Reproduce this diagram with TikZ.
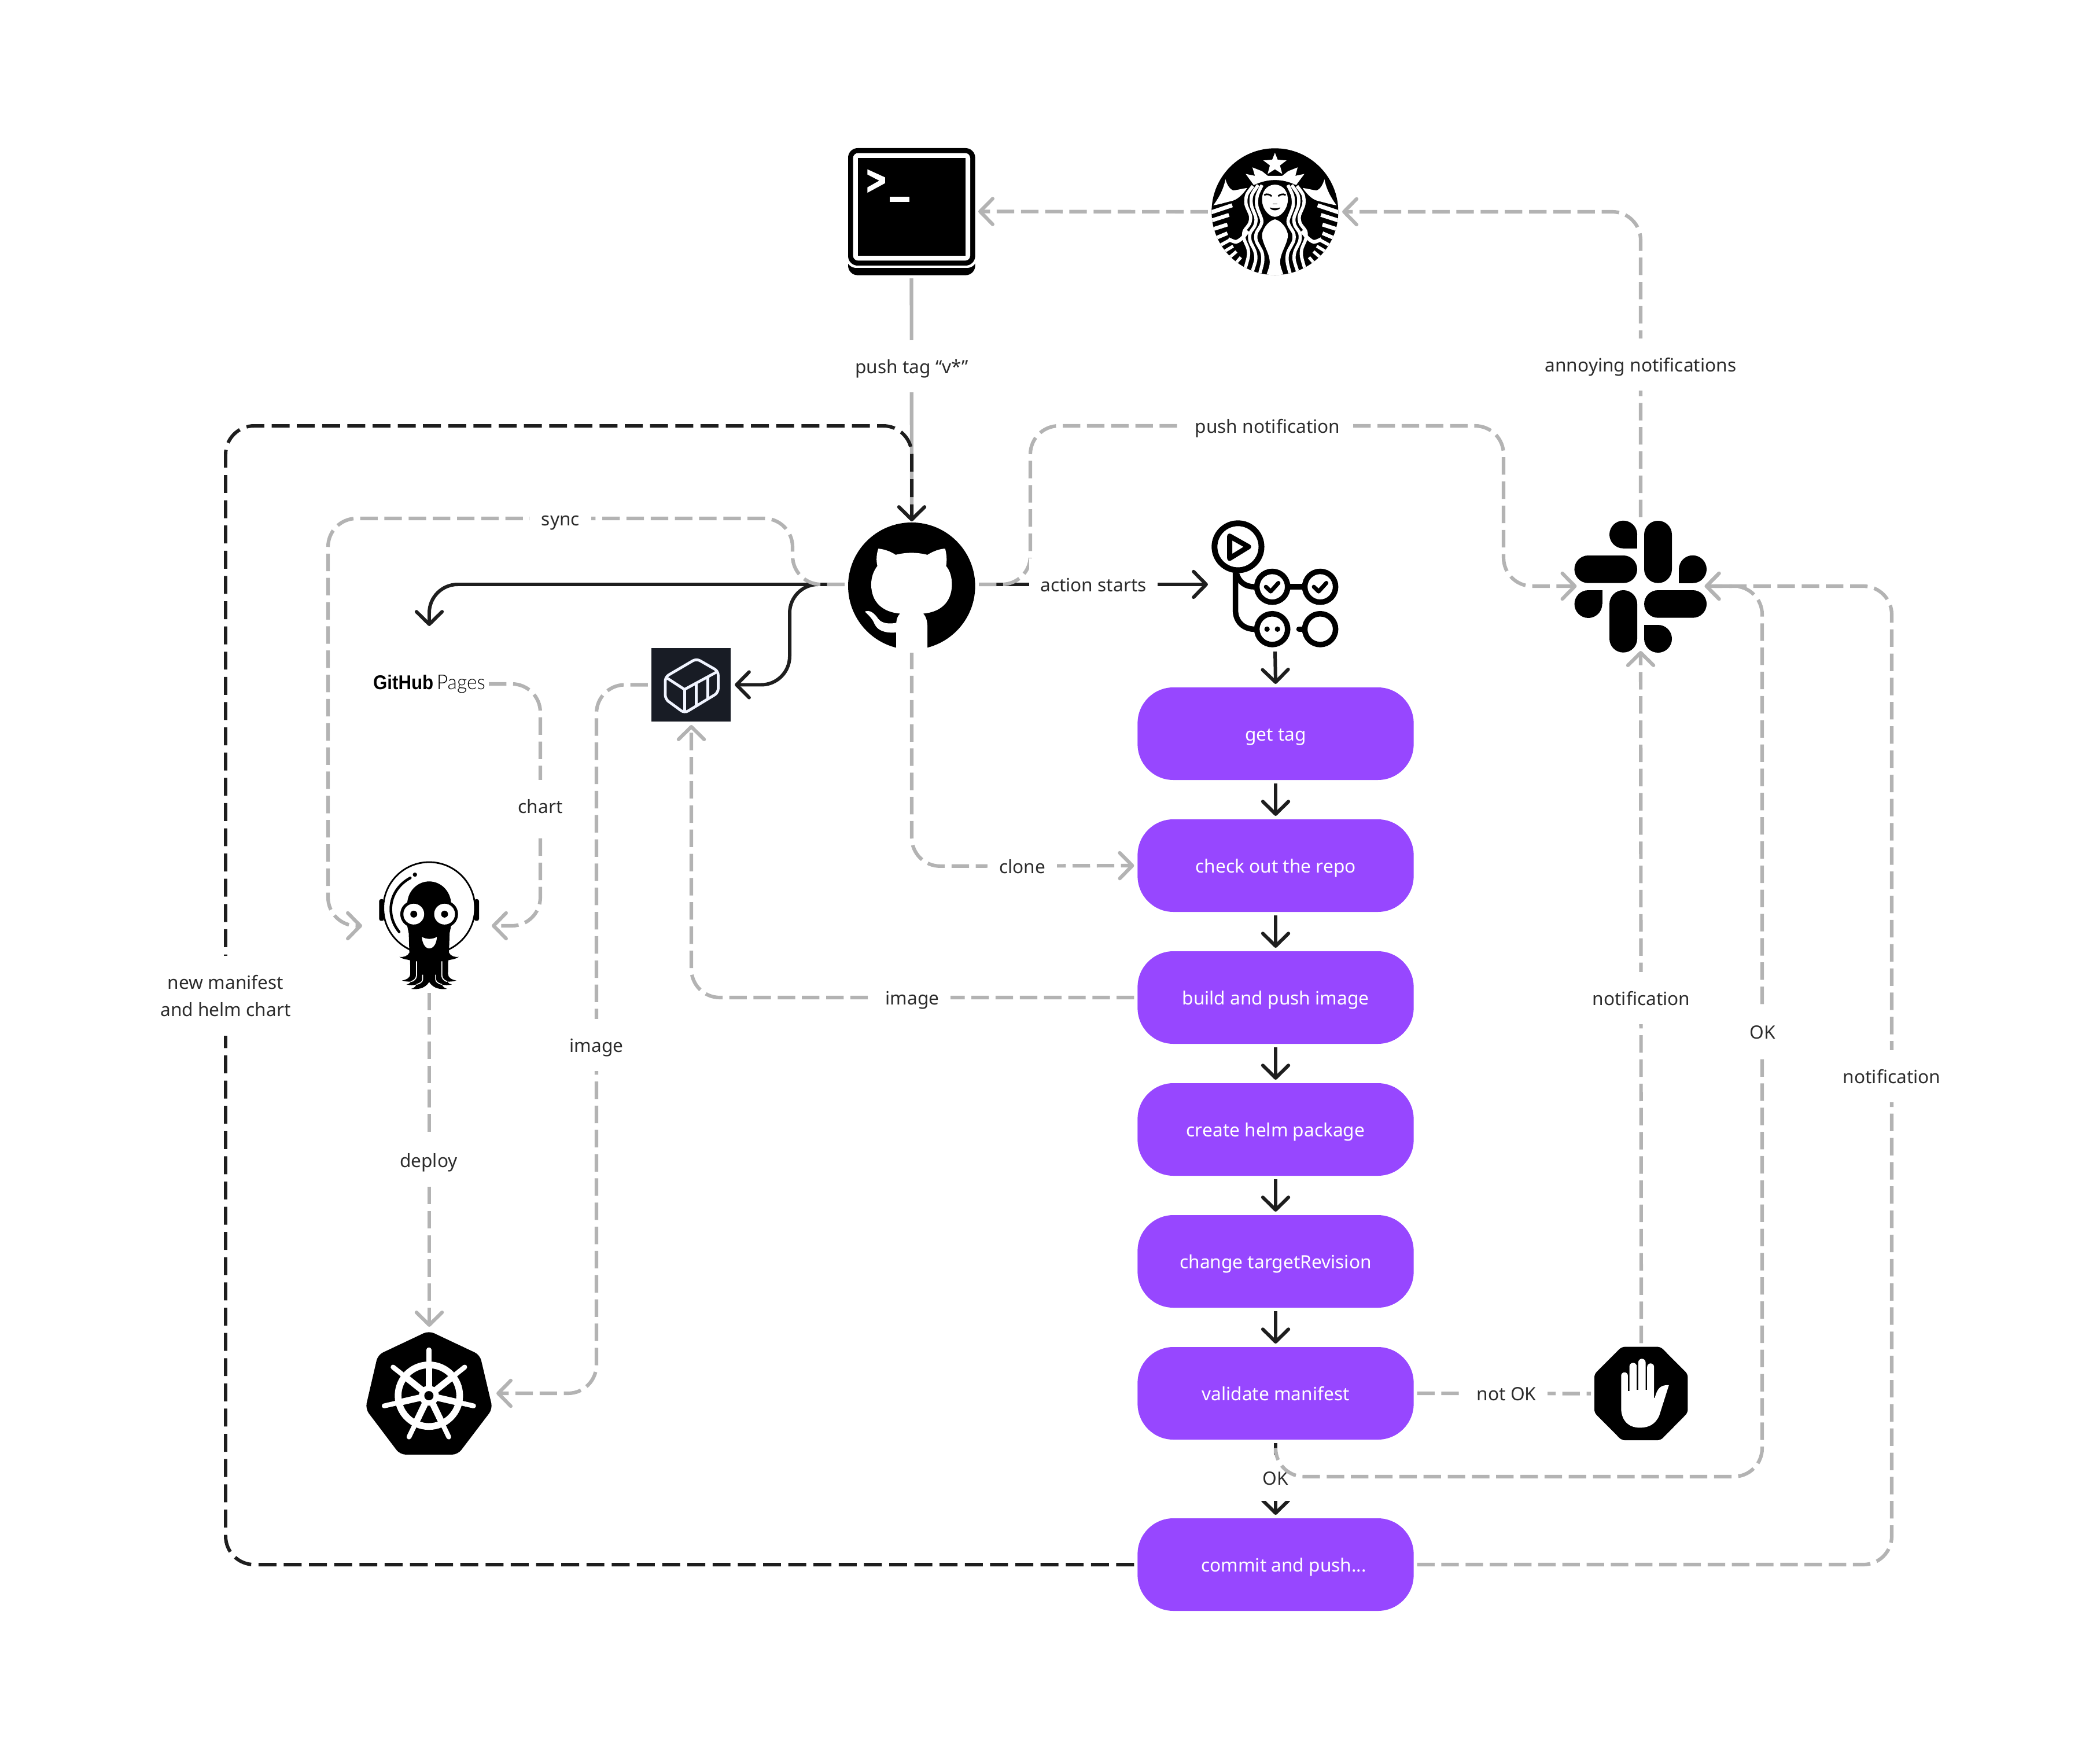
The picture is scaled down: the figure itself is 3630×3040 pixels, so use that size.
\documentclass[tikz,border=0pt]{standalone}
\usepackage{fontspec}
\usepackage{graphicx}
\setmainfont{Noto Sans}
\newfontfamily\ghbold{Liberation Sans}
\newfontfamily\ghlight{Lato Light}
\usetikzlibrary{arrows.meta,calc}
\definecolor{gr}{HTML}{B3B3B3}
\definecolor{dk}{HTML}{1E1E1E}
\definecolor{txt}{HTML}{2C2C2C}
\definecolor{pur}{HTML}{9747FF}
\definecolor{hb}{HTML}{181C25}
\definecolor{hbw}{HTML}{F0F4FF}
\tikzset{
  z3/.style={x=0.0033333cm,y=-0.0033333cm},
  tipb/.style={-{Straight Barb[length=6.2pt,width=12.6pt,round]}},
  grayline/.style={draw=gr,line width=1.75pt,rounded corners=14pt},
  graydash/.style={grayline,dash pattern=on 8.6pt off 3.3pt},
  darkline/.style={draw=dk,line width=1.7pt,rounded corners=14pt},
  darkdash/.style={darkline,dash pattern=on 8.8pt off 3.6pt},
  pill/.style={fill=pur,rounded corners=17.6pt,minimum width=135.7pt,minimum height=45.5pt,inner sep=0pt,outer sep=1.7pt,text=white,font=\fontsize{9pt}{13pt}\selectfont,text height=9pt,text depth=2pt},
  iconbox/.style={inner sep=0pt,outer sep=1.7pt},
  lab/.style={fill=white,text=txt,font=\fontsize{9pt}{13pt}\selectfont,inner xsep=5.6pt,inner ysep=0pt,minimum height=25.6pt,text height=9pt,text depth=2pt},
}
\begin{document}
\begin{tikzpicture}[x=0.01cm,y=-0.01cm]
\useasboundingbox (0,0) rectangle (3630,3040);
\fill[white] (0,0) rectangle (3630,3040);
% pills
\node[pill] (p1) at (2205,1268) {get tag};
\node[pill] (p2) at (2205,1496) {check out the repo};
\node[pill] (p3) at (2205,1724) {build and push image};
\node[pill] (p4) at (2205,1952) {create helm package};
\node[pill] (p5) at (2205,2180) {change targetRevision};
\node[pill] (p6) at (2205,2408) {validate manifest};
\node[pill] (p7) at (2205,2704) {\hspace*{8pt}commit and push...};
% icon anchors
\node[iconbox,minimum width=62.3pt,minimum height=62.3pt] (term) at (1575.5,365.5) {};
\node[iconbox,minimum width=62.6pt,minimum height=62.6pt] (star) at (2204,366) {};
\node[iconbox,minimum width=62.6pt,minimum height=62.6pt] (gh) at (1576,1010) {};
\node[iconbox,minimum width=62.6pt,minimum height=62.6pt] (act) at (2204,1010) {};
\node[iconbox,minimum width=59.5pt,minimum height=64.3pt] (slack) at (2836,1013) {};
\node[iconbox,minimum width=39.3pt,minimum height=36.1pt] (harbor) at (1195,1183.5) {};
\node[iconbox,minimum width=60.3pt,minimum height=62.6pt] (argo) at (738,1600) {};
\node[iconbox,minimum width=62.6pt,minimum height=62pt] (kube) at (742,2408) {};
\node[iconbox,minimum width=46.1pt,minimum height=46.1pt] (stop) at (2837,2408.5) {};
\node[iconbox,minimum width=55.2pt,minimum height=53.5pt,text=black] (pages) at (742,1182)
  {\resizebox{29.6pt}{7.1pt}{\ghbold\bfseries GitHub}\hspace{1.6pt}\resizebox{23.9pt}{7.1pt}{\ghlight Pages}};
\coordinate (okstart) at (2205,2512);
% dark solid lines under the gray ones
\draw[darkline,tipb] (gh.west) -- (742,1010) -- (pages.north);
\draw[darkline,tipb] (gh.west) -- (1365,1010) -- (1365,1183.5) -- (harbor.east);
\draw[darkline,tipb,shorten >=0pt] (gh.east) -- (act.west);
\draw[darkline,tipb] (act.south) -- (p1.north);
\draw[darkline,tipb] (p1.south) -- (p2.north);
\draw[darkline,tipb] (p2.south) -- (p3.north);
\draw[darkline,tipb] (p3.south) -- (p4.north);
\draw[darkline,tipb] (p4.south) -- (p5.north);
\draw[darkline,tipb] (p5.south) -- (p6.north);
\draw[darkline,tipb] (p6.south) -- (p7.north);
\node[lab,minimum height=23pt] (lok2) at (2205,2554) {OK};
% gray lines
\draw[grayline,tipb,shorten >=-2pt] (term.south) -- (gh.north);
\draw[graydash,tipb] (star.west) -- (term.east);
\draw[graydash,tipb] (slack.north) -- (2836,366) -- (star.east);
\draw[graydash,tipb] (gh.east) -- (1781,1010) -- (1781,736) -- (2599,736) -- (2599,1013) -- (slack.west);
\draw[graydash,tipb] (gh.west) -- (1370,1010) -- (1370,896) -- (567,896) -- (567,1600) -- (argo.west);
\draw[graydash,tipb] (pages.east) -- (934,1182) -- (934,1600) -- (argo.east);
\draw[graydash,tipb] (harbor.west) -- (1031,1183.5) -- (1031,2408) -- (kube.east);
\draw[graydash,tipb] (p3.west) -- (1195,1724) -- (harbor.south);
\draw[graydash,tipb] (gh.south) -- (1576,1497) -- (p2.west);
\draw[graydash,tipb] (argo.south -| kube.north) -- (kube.north);
\draw[graydash,tipb,shorten >=-2pt] (stop.north) -- (slack.south);
\draw[graydash] (p6.east) -- (stop.west);
\draw[graydash,tipb] (okstart) -- (2205,2552) -- (3046,2552) -- (3046,1013) -- (slack.east);
\draw[graydash,tipb] (p7.east) -- (3270,2704) -- (3270,1013) -- (slack.east);
% dark dashed
\draw[darkdash,tipb,shorten >=-2pt] (p7.west) -- (390,2704) -- (390,736) -- (1576,736) -- (gh.north);
% labels
\node[lab] (l1) at (1576,633) {push tag “v*”};
\node[lab] (l2) at (969,896) {sync};
\node[lab] (l3) at (934,1393) {chart};
\node[lab] (l4) at (1890,1010) {action starts};
\node[lab] (l5) at (2191,736) {push notification};
\node[lab] (l6) at (2836,630) {annoying notifications};
\node[lab] (l7) at (1767,1497) {clone};
\node[lab] (l8) at (1577,1724) {image};
\node[lab] (l9) at (1031,1806) {image};
\node[lab] (l10) at (741,2005) {deploy};
\node[lab] (l11) at (2837,1725) {notification};
\node[lab] (l12) at (3047,1783) {OK};
\node[lab] (l13) at (3270,1860) {notification};
\node[lab] (l14) at (2604,2408) {not OK};
\node[fill=white,text=txt,font=\fontsize{9pt}{13.2pt}\selectfont,align=center,inner xsep=5.4pt,inner ysep=0pt,minimum height=39.5pt] (l15) at (390,1721) {new manifest\\and helm chart};

% ---------- terminal
\begin{scope}[shift={(1460,250)},z3]
\fill[black,rounded corners=4.7pt] (18,500) rectangle (678,678);
\fill[white,rounded corners=4.7pt] (10,30) rectangle (686,640);
\fill[black,rounded corners=4.7pt] (18,18) rectangle (678,628);
\fill[white,rounded corners=2.4pt] (44,44) rectangle (652,602);
\fill[black] (68,68) rectangle (628,578);
\fill[white] (118,128) -- (210,170) -- (210,200) -- (118,250) -- (118,222) -- (180,187) -- (118,155) -- cycle;
\fill[white] (233,270) rectangle (335,297);
\end{scope}
% ---------- starbucks
\begin{scope}[shift={(2080,240)},z3]
\fill[black] (372,378) circle (329);
\begin{scope}
\clip (372,378) circle (329);
\fill[white] (372,72) -- (386,108) -- (432,112) -- (398,138) -- (410,182) -- (372,158) -- (334,182) -- (346,138) -- (312,112) -- (358,108) -- cycle;
\fill[white] (262,240) -- (220,182) -- (268,192) -- (255,148) -- (305,168) -- (335,192) -- (410,192) -- (440,168) -- (490,148) -- (478,192) -- (525,182) -- (482,240) .. controls (410,205) and (335,205) .. (262,240) -- cycle;
\fill[black] (372,167) -- (340,190) -- (405,190) -- cycle;
\foreach \m in {0,1}{
\begin{scope}[shift={(744*\m,0)},xscale={1-2*\m}]
  % fin
  \fill[white] (52,345) .. controls (85,300) and (105,260) .. (115,210) .. controls (125,245) and (140,262) .. (155,268) .. controls (180,265) and (205,258) .. (228,255) .. controls (200,295) and (175,315) .. (150,322) .. controls (115,330) and (85,340) .. (52,345) -- cycle;
  % tail stripes
  \draw[white,line width=2pt] (30,385) -- (150,345);
  \draw[white,line width=1.9pt] (30,428) -- (133,395);
  \draw[white,line width=1.9pt] (38,473) -- (125,445);
  \draw[white,line width=1.8pt] (58,518) -- (125,490);
  \draw[white,line width=1.6pt] (80,557) -- (135,527);
  \draw[white,line width=1.5pt] (100,590) -- (155,557);
  \draw[white,line width=1.5pt] (125,625) -- (172,585);
  \draw[white,line width=1.5pt] (160,655) -- (195,615);
  \draw[white,line width=1.8pt] plot[smooth] coordinates {(130,520)(170,535)(205,512)(232,478)};
  % hair strands
  \draw[white,line width=1.6pt] plot[smooth] coordinates {(258,245)(226,290)(222,340)(245,400)(240,440)(212,480)(212,520)(232,570)(234,610)(218,670)};
  \draw[white,line width=1.6pt] plot[smooth] coordinates {(285,240)(252,292)(250,345)(273,410)(268,450)(243,490)(243,530)(268,585)(272,630)(250,700)};
  \draw[white,line width=1.6pt] plot[smooth] coordinates {(305,240)(280,295)(278,350)(303,420)(298,450)(275,490)(275,530)(305,590)(308,640)(290,710)};
\end{scope}}
% torso
\fill[white] (372,418) .. controls (340,425) and (312,460) .. (305,495) .. controls (302,540) and (345,590) .. (345,640) .. controls (345,670) and (330,690) .. (325,720) -- (419,720) .. controls (414,690) and (399,670) .. (399,640) .. controls (399,590) and (442,540) .. (439,495) .. controls (432,460) and (404,425) .. (372,418) -- cycle;
% face
\fill[white] (372,238) .. controls (325,238) and (303,280) .. (305,320) .. controls (308,370) and (345,405) .. (372,405) .. controls (399,405) and (436,370) .. (439,320) .. controls (441,280) and (419,238) .. (372,238) -- cycle;
\draw[black,line width=0.8pt] (316,292) .. controls (330,284) and (345,288) .. (355,298);
\draw[black,line width=0.8pt] (428,292) .. controls (414,284) and (399,288) .. (389,298);
\draw[black,line width=0.5pt] (360,338) -- (385,338);
\fill[black] (345,356) .. controls (360,362) and (385,362) .. (400,356) .. controls (392,376) and (352,376) .. (345,356) -- cycle;
\end{scope}
\end{scope}
% ---------- github
\begin{scope}[shift={(1460,895)},z3]
\fill[black] (348,354) circle (330);
\fill[white] (268,700) -- (268,545) .. controls (270,525) and (275,510) .. (288,497) .. controls (200,490) and (138,440) .. (138,345) .. controls (138,310) and (150,275) .. (170,250) .. controls (163,220) and (165,190) .. (175,160) .. controls (205,162) and (240,175) .. (265,192) .. controls (320,178) and (375,178) .. (430,192) .. controls (465,170) and (500,160) .. (522,160) .. controls (530,190) and (532,220) .. (527,250) .. controls (548,275) and (557,310) .. (557,345) .. controls (557,440) and (495,490) .. (408,497) .. controls (425,515) and (430,540) .. (430,570) -- (430,700) -- cycle;
\fill[white] (105,487) .. controls (130,475) and (155,495) .. (175,525) .. controls (195,550) and (235,552) .. (268,545) -- (268,595) .. controls (210,600) and (170,585) .. (155,550) .. controls (145,525) and (125,505) .. (105,487) -- cycle;
\end{scope}
% ---------- actions
\begin{scope}[shift={(2085,895)},z3]
\draw[black,line width=2.85pt] (165,150) circle (122);
\draw[black,line width=2.5pt,line join=round] (122,95) -- (220,150) -- (122,210) -- cycle;
\draw[black,line width=2.7pt] (343,358) circle (80);
\draw[black,line width=2.7pt] (592,358) circle (80);
\draw[black,line width=2.7pt] (343,578) circle (80);
\draw[black,line width=2.7pt] (592,578) circle (80);
\draw[black,line width=2.7pt] (152,285) -- (152,480) .. controls (152,540) and (195,578) .. (250,578);
\draw[black,line width=2.7pt] (158,290) .. controls (170,335) and (205,358) .. (250,358);
\draw[black,line width=2.7pt] (435,358) -- (500,358);
\draw[black,line width=2.7pt,line cap=round] (482,578) -- (500,578);
\draw[black,line width=2pt,line cap=round,line join=round] (310,358) -- (335,382) -- (375,338);
\draw[black,line width=2pt,line cap=round,line join=round] (559,358) -- (584,382) -- (624,338);
\fill[black] (316,578) circle (14);
\fill[black] (370,578) circle (14);
\end{scope}
% ---------- slack
\begin{scope}
\fill (2806,923.8) circle (24); \fill (2806,923.8) rectangle (2830,947.7);
\fill[rounded corners=6.8pt] (2721.4,960) rectangle (2830,1007.7);
\fill[rounded corners=6.8pt] (2842,900) rectangle (2890,1007.7);
\fill (2926,983.8) circle (24); \fill (2902,983.8) rectangle (2926,1007.7);
\fill (2745.5,1044) circle (24); \fill (2745.5,1020) rectangle (2769.6,1044);
\fill[rounded corners=6.8pt] (2782,1020) rectangle (2830,1127.7);
\fill[rounded corners=6.8pt] (2842,1020) rectangle (2950,1067.7);
\fill (2866,1104) circle (24); \fill (2842,1080) rectangle (2866,1104);
\end{scope}
% ---------- harbor
\begin{scope}[shift={(1120,1110)},z3]
\fill[hb] (18,30) rectangle (430,412);
\draw[hbw,line width=1.35pt,rounded corners=2pt] (252,85) -- (365,150) -- (365,262) -- (190,368) -- (90,295) -- (90,180) -- cycle;
\draw[hbw,line width=1.35pt,line join=round] (90,180) -- (190,245) -- (365,150);
\draw[hbw,line width=1.35pt] (190,245) -- (190,365);
\draw[hbw,line width=1.35pt] (250,212) -- (250,325);
\draw[hbw,line width=1.35pt] (312,178) -- (312,290);
\end{scope}
% ---------- argo
\begin{scope}[shift={(640,1480)},z3]
\draw[black,line width=0.8pt] (306,268) circle (238);
\fill[black,rounded corners=1pt] (46,222) rectangle (72,335);
\fill[black,rounded corners=1pt] (540,222) rectangle (565,335);
\draw[black,line width=1.3pt,line cap=round] (208,112) .. controls (100,170) and (75,300) .. (150,392);
\fill[black] (232,95) circle (11);
\foreach \m in {0,1}{
\begin{scope}[shift={(612*\m,0)},xscale={1-2*\m}]
\fill[black] (307,130) .. controls (245,130) and (195,180) .. (192,245) -- (192,360) -- (200,400) -- (203,500) .. controls (195,518) and (172,525) .. (152,522) .. controls (175,537) and (195,535) .. (207,540) -- (208,610) .. controls (208,630) and (190,640) .. (165,645) .. controls (185,650) and (200,652) .. (212,650) .. controls (205,660) and (200,662) .. (188,665) .. controls (205,670) and (225,670) .. (240,665) .. controls (235,678) and (225,685) .. (212,688) .. controls (240,692) and (285,690) .. (307,650) -- cycle;
\fill[black] (226,300) circle (70);
\fill[white] (226,300) circle (54);
\fill[black] (226,300) circle (18);
\draw[white,line width=0.5pt] (240,545) -- (240,620) .. controls (240,635) and (225,648) .. (212,650);
\draw[white,line width=0.45pt] (272,615) -- (272,640) .. controls (272,652) and (255,662) .. (240,665);
\end{scope}}
\fill[white] (268,418) .. controls (290,432) and (325,432) .. (346,418) .. controls (345,450) and (330,478) .. (306,478) .. controls (285,478) and (270,450) .. (268,418) -- cycle;
\end{scope}
% ---------- kubernetes
\begin{scope}[shift={(550,2250)},z3]
\fill[black,rounded corners=2.8pt] (575,150) -- (840,275) -- (906,555) -- (725,793) -- (425,793) -- (245,555) -- (310,275) -- cycle;
\draw[white,line width=3.3pt] (575,487) circle (160);
\foreach \a in {270,321.43,12.86,64.29,115.71,167.14,218.57}{
  \draw[white,line width=2.4pt,line cap=round] ($(575,487)+(\a:150)$) -- ($(575,487)+(\a:238)$);
  \draw[white,line width=3.2pt] (575,487) -- ($(575,487)+(\a:150)$);
}
\fill[white] (575,487) circle (52);
\fill[black] (575,487) circle (24);
\end{scope}
% ---------- stop
\begin{scope}[shift={(2740,2315)},z3]
\fill[black,rounded corners=1.5pt] (190,38) -- (392,38) -- (533,180) -- (533,380) -- (392,523) -- (190,523) -- (48,380) -- (48,180) -- cycle;
\fill[white] (187,355) -- (187,188) arc (180:360:17.5) -- (222,268) -- (230,268) -- (230,140) arc (180:360:19) -- (268,262) -- (276,262) -- (276,119) arc (180:360:19) -- (314,262) -- (322,262) -- (322,142) arc (180:360:18) -- (358,303) -- (362,303) .. controls (375,250) and (395,235) .. (435,237) -- (385,395) .. controls (365,440) and (330,458) .. (285,458) .. controls (220,458) and (187,415) .. (187,355) -- cycle;
\end{scope}
\end{tikzpicture}
\end{document}
